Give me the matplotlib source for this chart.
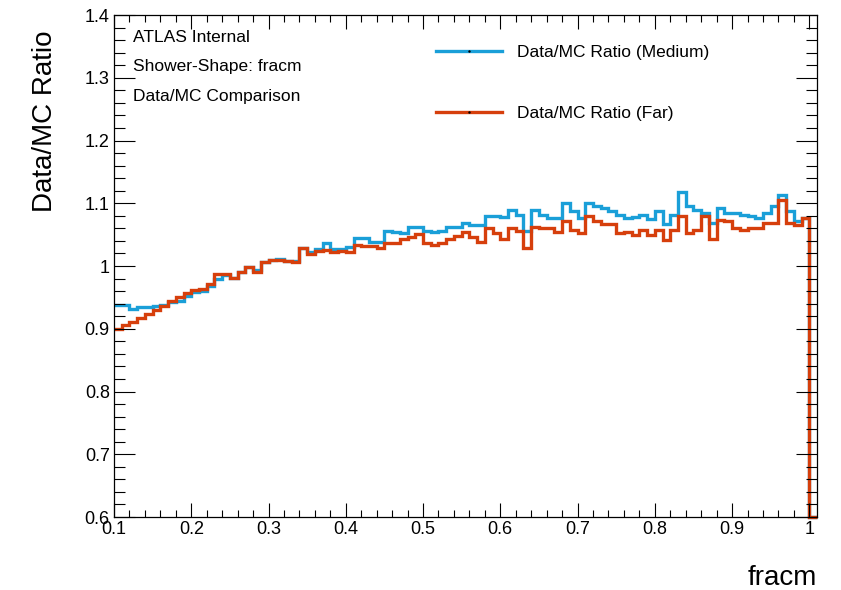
import numpy as np
import matplotlib
matplotlib.use("Agg")
import matplotlib.pyplot as plt
from matplotlib.lines import Line2D
from matplotlib.ticker import MultipleLocator

plt.rcParams["font.family"] = ["Liberation Sans", "DejaVu Sans"]

# ── Histogram contents (bin width 0.01, range 0.1 - 1.01) ──────────
x_lo, x_hi, n_bins = 0.1, 1.01, 91

ratio_medium = [
    0.938, 0.938, 0.932, 0.934, 0.935, 0.936, 0.938, 0.943, 0.945, 0.952,
    0.958, 0.960, 0.968, 0.980, 0.986, 0.981, 0.991, 0.999, 0.993, 1.007,
    1.010, 1.011, 1.008, 1.008, 1.028, 1.022, 1.027, 1.036, 1.027, 1.027,
    1.031, 1.044, 1.044, 1.039, 1.038, 1.056, 1.054, 1.053, 1.063, 1.062,
    1.056, 1.054, 1.056, 1.063, 1.063, 1.068, 1.066, 1.066, 1.080, 1.080,
    1.078, 1.089, 1.082, 1.056, 1.090, 1.081, 1.077, 1.077, 1.100, 1.087,
    1.077, 1.100, 1.095, 1.092, 1.087, 1.081, 1.077, 1.078, 1.081, 1.075,
    1.088, 1.067, 1.081, 1.118, 1.095, 1.090, 1.084, 1.069, 1.092, 1.085,
    1.085, 1.081, 1.080, 1.076, 1.084, 1.095, 1.113, 1.087, 1.071, 1.077,
    0.0,
]

ratio_far = [
    0.900, 0.906, 0.911, 0.917, 0.923, 0.930, 0.937, 0.944, 0.950, 0.957,
    0.962, 0.963, 0.972, 0.987, 0.987, 0.981, 0.991, 0.999, 0.991, 1.007,
    1.010, 1.010, 1.008, 1.007, 1.028, 1.019, 1.024, 1.025, 1.023, 1.024,
    1.022, 1.033, 1.032, 1.032, 1.028, 1.036, 1.036, 1.043, 1.046, 1.051,
    1.036, 1.033, 1.037, 1.043, 1.048, 1.054, 1.046, 1.039, 1.061, 1.052,
    1.043, 1.061, 1.056, 1.028, 1.063, 1.060, 1.060, 1.055, 1.071, 1.057,
    1.052, 1.079, 1.071, 1.067, 1.067, 1.052, 1.055, 1.050, 1.058, 1.050,
    1.058, 1.041, 1.057, 1.079, 1.052, 1.058, 1.080, 1.043, 1.073, 1.071,
    1.060, 1.057, 1.060, 1.060, 1.068, 1.068, 1.105, 1.068, 1.065, 1.077,
    0.0,
]

labels = ["Data/MC Ratio (Medium)", "Data/MC Ratio (Far)"]
info_lines = ["ATLAS Internal", "Shower-Shape: fracm", "Data/MC Comparison"]

COL_MEDIUM = "#1a9fd8"
COL_FAR = "#d63f0c"
y_lo, y_hi = 0.6, 1.4

edges = np.linspace(x_lo, x_hi, n_bins + 1)

fig = plt.figure(figsize=(8.41, 5.90), dpi=100)
ax = fig.add_axes([0.1356, 0.1237, 0.8359, 0.8508])

# empty bins get pinned to the frame bottom like ROOT does
for vals, col in [(ratio_medium, COL_MEDIUM), (ratio_far, COL_FAR)]:
    v = np.clip(np.asarray(vals), y_lo, y_hi)
    ax.stairs(v, edges, baseline=None, color=col, lw=2.4, clip_on=False)

ax.set_xlim(x_lo, x_hi)
ax.set_ylim(y_lo, y_hi)

# ── Axes / ticks ──────────────────────────────────────────
ax.xaxis.set_major_locator(MultipleLocator(0.1))
ax.xaxis.set_minor_locator(MultipleLocator(0.02))
ax.yaxis.set_major_locator(MultipleLocator(0.1))
ax.yaxis.set_minor_locator(MultipleLocator(0.02))
ax.xaxis.set_major_formatter(plt.FuncFormatter(lambda v, p: f"{v:g}"))
ax.yaxis.set_major_formatter(plt.FuncFormatter(lambda v, p: f"{v:g}"))

ax.tick_params(axis="both", which="both", direction="in", top=True, right=True,
               width=0.8, colors="black", labelsize=13)
ax.tick_params(axis="x", which="major", length=10, pad=3)
ax.tick_params(axis="x", which="minor", length=5)
ax.tick_params(axis="y", which="major", length=15, pad=3)
ax.tick_params(axis="y", which="minor", length=8)
for s in ax.spines.values():
    s.set_linewidth(0.9)

ax.set_ylabel("Data/MC Ratio", fontsize=20, loc="top")
ax.yaxis.set_label_coords(-0.08, 0.97)
ax.set_xlabel("fracm", fontsize=20, loc="right")
ax.xaxis.set_label_coords(1.0, -0.095)

# ── Annotations ───────────────────────────────────────────
for txt, yy in zip(info_lines, [0.956, 0.898, 0.837]):
    ax.text(0.027, yy, txt, transform=ax.transAxes, fontsize=12.5,
            ha="left", va="center")

handles = [Line2D([], [], color=c, lw=2.4, marker=".", markersize=1.5,
                  markerfacecolor="black", markeredgecolor="black")
           for c in (COL_MEDIUM, COL_FAR)]
ax.legend(handles, labels, loc="upper left", bbox_to_anchor=(0.458, 0.941),
          frameon=False, fontsize=12.5, handlelength=3.8, handletextpad=0.85,
          labelspacing=2.65, borderpad=0, borderaxespad=0, numpoints=1)

fig.savefig("out.png", dpi=100)
